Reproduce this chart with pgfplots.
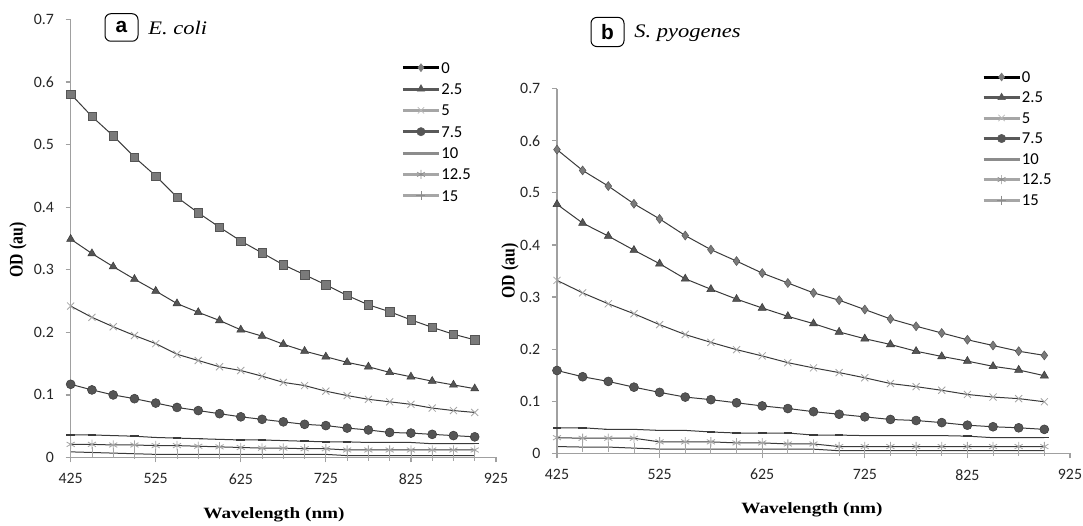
\documentclass[border=0pt]{standalone}
\usepackage{fontspec}
\setmainfont{Liberation Serif}
\setsansfont{Liberation Sans}
\newfontfamily\tickfont{Carlito}
\usepackage{graphicx}
\usepackage{pgfplots}
\usepackage{pgfplotstable}
\pgfplotsset{compat=1.18}

\definecolor{axgray}{HTML}{A0A0A0}
\definecolor{linegray}{HTML}{3A3A3A}
\definecolor{mdark}{HTML}{555555}
\definecolor{mmid}{HTML}{7A7A7A}
\definecolor{mlight}{HTML}{A6A6A6}
\definecolor{lgdark}{HTML}{595959}
\definecolor{lgmid}{HTML}{8C8C8C}

% E. coli
\pgfplotstableread{
wl   s0    s25   s5    s75   s10   s125  s15
425  0.581 0.349 0.242 0.117 0.036 0.021 0.009
450  0.545 0.326 0.224 0.108 0.036 0.021 0.008
475  0.514 0.305 0.209 0.100 0.035 0.020 0.007
500  0.480 0.285 0.195 0.094 0.034 0.020 0.006
525  0.450 0.266 0.182 0.087 0.032 0.019 0.005
550  0.416 0.246 0.165 0.080 0.031 0.019 0.005
575  0.391 0.232 0.155 0.075 0.030 0.018 0.005
600  0.368 0.219 0.145 0.070 0.029 0.017 0.005
625  0.346 0.204 0.139 0.065 0.028 0.016 0.005
650  0.327 0.194 0.130 0.061 0.028 0.015 0.005
675  0.308 0.181 0.120 0.057 0.027 0.015 0.005
700  0.292 0.170 0.115 0.053 0.026 0.014 0.005
725  0.276 0.161 0.106 0.051 0.025 0.014 0.005
750  0.259 0.152 0.099 0.047 0.025 0.012 0.003
775  0.244 0.145 0.093 0.044 0.024 0.012 0.003
800  0.233 0.136 0.089 0.040 0.024 0.012 0.003
825  0.220 0.129 0.085 0.039 0.024 0.012 0.003
850  0.208 0.122 0.079 0.037 0.022 0.012 0.003
875  0.197 0.116 0.075 0.035 0.022 0.012 0.003
900  0.188 0.110 0.072 0.033 0.022 0.012 0.003
}\tabA

% S. pyogenes
\pgfplotstableread{
wl   s0    s25   s5    s75   s10   s125  s15
425  0.583 0.478 0.332 0.159 0.049 0.030 0.013
450  0.543 0.442 0.308 0.147 0.049 0.029 0.012
475  0.513 0.417 0.287 0.138 0.046 0.029 0.012
500  0.479 0.390 0.268 0.127 0.046 0.029 0.010
525  0.450 0.364 0.247 0.117 0.044 0.022 0.008
550  0.418 0.335 0.228 0.108 0.044 0.022 0.008
575  0.391 0.315 0.213 0.103 0.041 0.022 0.008
600  0.369 0.296 0.199 0.097 0.039 0.020 0.008
625  0.346 0.279 0.187 0.091 0.039 0.020 0.008
650  0.327 0.263 0.174 0.086 0.039 0.018 0.008
675  0.308 0.249 0.164 0.080 0.035 0.018 0.008
700  0.294 0.233 0.155 0.075 0.035 0.013 0.005
725  0.276 0.220 0.145 0.070 0.034 0.013 0.005
750  0.258 0.209 0.134 0.065 0.034 0.013 0.005
775  0.244 0.196 0.128 0.063 0.034 0.013 0.005
800  0.231 0.186 0.121 0.059 0.034 0.013 0.005
825  0.218 0.177 0.113 0.054 0.033 0.013 0.005
850  0.207 0.167 0.108 0.051 0.030 0.013 0.005
875  0.196 0.160 0.105 0.049 0.030 0.013 0.005
900  0.188 0.149 0.099 0.046 0.030 0.013 0.005
}\tabB

\pgfplotsset{
  panel/.style={
    scale only axis,
    xmin=425, xmax=925, ymin=0, ymax=0.7,
    xtick={425,525,625,725,825,925},
    ytick={0,0.1,0.2,0.3,0.4,0.5,0.6,0.7},
    axis x line*=bottom, axis y line*=left,
    axis line style={draw=axgray, line width=0.7pt, -},
    tick style={draw=axgray, line width=0.7pt},
    tick align=outside, major tick length=3pt,
    ticklabel style={font=\tickfont\fontsize{9.5}{9.5}\selectfont, text=black!85},
    /pgf/number format/assume math mode=true,
    yticklabel style={xshift=-3.5pt},
    xticklabel style={yshift=-3pt},
    clip=false,
    legend style={draw=none, fill=none, inner sep=0pt, anchor=north west,
      font=\tickfont\fontsize{10}{10}\selectfont,
      nodes={inner sep=0.5pt, text height=6.5pt, text depth=0pt},
      cells={anchor=west}},
    legend image code/.code={\draw[mark repeat=2,mark phase=2,#1]
      plot coordinates {(0pt,0pt) (10.8pt,0pt) (21.6pt,0pt)};},
  },
  ln/.style={color=linegray, line width=0.6pt, forget plot},
}

\newcommand{\lgitems}{%
  \addlegendimage{black, line width=1.8pt, mark=diamond*, mark size=2.4pt,
    mark options={fill=mmid, draw=mmid, line width=0.3pt}}
  \addlegendentry{0}
  \addlegendimage{lgdark, line width=1.8pt, mark=triangle*, mark size=2.6pt,
    mark options={fill=mdark, draw=mdark, line width=0.3pt}}
  \addlegendentry{2.5}
  \addlegendimage{mlight, line width=1.8pt, mark=x, mark size=2.7pt,
    mark options={draw=mlight!80, line width=0.4pt}}
  \addlegendentry{5}
  \addlegendimage{lgdark, line width=1.8pt, mark=*, mark size=2.5pt,
    mark options={fill=mdark, draw=mdark, line width=0.3pt}}
  \addlegendentry{7.5}
  \addlegendimage{lgmid, line width=1.8pt}
  \addlegendentry{10}
  \addlegendimage{mlight, line width=1.8pt, mark=asterisk, mark size=2.7pt,
    mark options={draw=lgmid, line width=0.4pt}}
  \addlegendentry{12.5}
  \addlegendimage{mlight, line width=1.8pt, mark=+, mark size=2.7pt,
    mark options={draw=lgmid, line width=0.4pt}}
  \addlegendentry{15}
}

\newcommand{\lowcurves}[1]{%
  \addplot[ln, mark=x, mark size=3pt, mark options={draw=mlight, line width=0.5pt}]
    table[x=wl, y=s5]{#1};
  \addplot[ln, mark=*, mark size=2.7pt, mark options={fill=mdark, draw=linegray, line width=0.3pt}]
    table[x=wl, y=s75]{#1};
  \addplot[ln, mark=-, mark size=2.6pt, mark options={draw=linegray, line width=0.9pt}]
    table[x=wl, y=s10]{#1};
  \addplot[ln, mark=asterisk, mark size=2.8pt, mark options={draw=mlight, line width=0.5pt}]
    table[x=wl, y=s125]{#1};
  \addplot[ln, mark=|, mark size=3pt, mark options={draw=mlight, line width=0.5pt}]
    table[x=wl, y=s15]{#1};
  \addplot[ln, mark=triangle*, mark size=2.8pt, mark options={fill=mdark, draw=linegray, line width=0.3pt}]
    table[x=wl, y=s25]{#1};
}

\begin{document}
\begin{tikzpicture}[x=0.6pt, y=0.6pt]
\path[use as bounding box] (0,0) rectangle (1083,526);

% panel a
\begin{axis}[panel, at={(42.4pt,41.1pt)}, anchor=south west,
  width=255.2pt, height=262.8pt,
  legend style={at={(0.777,0.905)}, row sep=5.3pt}]
  \lowcurves{\tabA}
  \addplot[ln, mark=square*, mark size=2.5pt, mark options={fill=mmid, draw=mdark, line width=0.3pt}]
    table[x=wl, y=s0]{\tabA};
  \lgitems
\end{axis}

% panel b
\begin{axis}[panel, at={(334.2pt,43.6pt)}, anchor=south west,
  width=307.8pt, height=218.8pt,
  legend style={at={(0.828,1.05)}, row sep=4.8pt}]
  \lowcurves{\tabB}
  \addplot[ln, mark=diamond*, mark size=2.7pt, mark options={fill=mmid, draw=mdark, line width=0.3pt}]
    table[x=wl, y=s0]{\tabB};
  \lgitems
\end{axis}

% titles
\node[draw=black, line width=0.6pt, rounded corners=3.5pt, minimum width=19.8pt,
  minimum height=16.5pt, inner sep=0pt,
  font=\sffamily\bfseries\fontsize{12.5}{12.5}\selectfont] at (121.5,498.5) {a};
\node[anchor=base west, inner sep=0pt, font=\itshape\fontsize{13.5}{13.5}\selectfont]
  at (148,491) {\scalebox{1}[0.85]{E. coli}};
\node[draw=black, line width=0.6pt, rounded corners=3.5pt, minimum width=19.8pt,
  minimum height=17.5pt, inner sep=0pt,
  font=\sffamily\bfseries\fontsize{12.5}{12.5}\selectfont] at (607.5,494) {b};
\node[anchor=base west, inner sep=0pt, font=\itshape\fontsize{13.5}{13.5}\selectfont]
  at (634,488.6) {\scalebox{1}[0.85]{S. pyogenes}};

% axis labels
\node[rotate=90, font=\bfseries\fontsize{11.5}{11.5}\selectfont] at (18,276)
  {\scalebox{0.82}[1]{OD (au)}};
\node[rotate=90, font=\bfseries\fontsize{11.5}{11.5}\selectfont] at (510,255)
  {\scalebox{0.82}[1]{OD (au)}};
\node[font=\bfseries\fontsize{11.5}{11.5}\selectfont] at (274,11)
  {\scalebox{1}[0.82]{Wavelength (nm)}};
\node[font=\bfseries\fontsize{11.5}{11.5}\selectfont] at (812,16)
  {\scalebox{1}[0.82]{Wavelength (nm)}};
\end{tikzpicture}
\end{document}
